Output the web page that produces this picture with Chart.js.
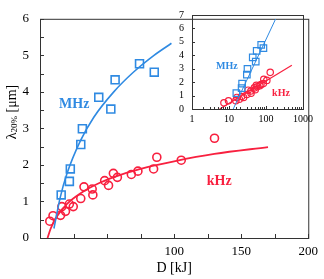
<!DOCTYPE html>
<html>
<head>
<meta charset="utf-8">
<script src="https://cdn.jsdelivr.net/npm/chart.js@4.4.1/dist/chart.umd.min.js"></script>
<style>
  html, body { margin: 0; padding: 0; background: #fff; }
  #wrap { position: relative; width: 324px; height: 279px; }
  #main { position: absolute; left: 0; top: 0; width: 324px; height: 279px; }
  #inset { position: absolute; left: 160px; top: 0; width: 164px; height: 135px; }
</style>
</head>
<body>
<div id="wrap">
  <canvas id="main" width="324" height="279"></canvas>
  <canvas id="inset" width="164" height="135"></canvas>
</div>
<script>
// measured points, MHz (squares)
const mhzD = [15.8, 21.9, 22.6, 30.4, 31.6, 43.8, 52.8, 56, 74.2, 85.2];
const mhzL = [1.18, 1.55, 1.89, 2.56, 2.99, 3.85, 3.53, 4.33, 4.77, 4.54];
// measured points, kHz (circles)
const khzD = [7.3, 9.7, 15.3, 16.3, 19, 21.9, 24.8, 30.4, 32.8, 38.9, 39.4, 48.2, 51.1, 54.7, 57.7, 68.1, 73, 84.7, 87.1, 105.3, 130.1];
const khzL = [0.46, 0.61, 0.62, 0.86, 0.73, 0.93, 0.86, 1.08, 1.40, 1.34, 1.18, 1.57, 1.44, 1.77, 1.66, 1.74, 1.83, 1.89, 2.21, 2.13, 2.73];
// fit curves
const mhzFitD = [10.4, 15, 20, 30, 40, 55, 70, 85, 98];
const mhzFitL = [0.26, 1.1, 1.75, 2.65, 3.3, 4.0, 4.55, 5.0, 5.33];
const khzFitD = [5.6, 8, 12, 20, 30, 45, 60, 80, 100, 130, 170];
const khzFitL = [0, 0.26, 0.56, 0.93, 1.22, 1.52, 1.73, 1.94, 2.1, 2.3, 2.49];
// fit lines in the log inset
const mhzInsetD = [13, 182];
const mhzInsetL = [0, 6.7];
const khzInsetD = [5.6, 500];
const khzInsetL = [0, 3.25];
// tick labels
const mainXLabels = [100, 150, 200];
const insetXLabels = [1, 10, 100, 1000];

const BLUE = '#2f8ae2';
const RED = '#f8203f';
const SERIF = '"Liberation Serif", "Times New Roman", serif';

const pts = (xs, ys) => xs.map((x, i) => ({ x: x, y: ys[i] }));

// frame, inward tick marks, in-plot labels and the y title
const decor = {
  id: 'decor',
  afterDraw(chart, args, o) {
    const ctx = chart.ctx, a = chart.chartArea;
    const xs = chart.scales.x, ys = chart.scales.y;
    ctx.save();
    ctx.strokeStyle = '#333';
    ctx.lineWidth = 1;
    ctx.strokeRect(a.left + 0.5, a.top + 0.5, a.right - a.left, a.bottom - a.top);
    ctx.beginPath();
    xs.ticks.forEach(t => {
      let len = o.len;
      if (o.log) {
        const e = Math.log10(t.value);
        len = Math.abs(e - Math.round(e)) < 1e-9 ? o.len : o.minorLen;
      }
      const px = Math.round(xs.getPixelForValue(t.value)) + 0.5;
      ctx.moveTo(px, a.bottom);
      ctx.lineTo(px, a.bottom - len);
    });
    ys.ticks.forEach(t => {
      const py = Math.round(ys.getPixelForValue(t.value)) + 0.5;
      ctx.moveTo(a.left, py);
      ctx.lineTo(a.left + o.len, py);
    });
    ctx.stroke();

    ctx.textAlign = 'center';
    ctx.textBaseline = 'middle';
    (o.notes || []).forEach(n => {
      ctx.fillStyle = n.color;
      ctx.font = n.font;
      ctx.fillText(n.text, xs.getPixelForValue(n.x), ys.getPixelForValue(n.y));
    });

    if (o.yTitle) {
      ctx.translate(12, 112);
      ctx.rotate(-Math.PI / 2);
      ctx.fillStyle = '#000';
      ctx.textAlign = 'left';
      ctx.textBaseline = 'middle';
      const big = '14px ' + SERIF, small = '9px ' + SERIF;
      const parts = [['λ', big, 0], ['20%', small, 3], [' [μm]', big, 0]];
      let w = 0;
      parts.forEach(p => { ctx.font = p[1]; w += ctx.measureText(p[0]).width; });
      let x = -w / 2;
      parts.forEach(p => {
        ctx.font = p[1];
        ctx.fillText(p[0], x, p[2]);
        x += ctx.measureText(p[0]).width;
      });
    }
    ctx.restore();
  }
};

new Chart(document.getElementById('main'), {
  type: 'scatter',
  data: {
    datasets: [
      { data: pts(mhzFitD, mhzFitL), showLine: true, borderColor: BLUE, borderWidth: 1.6, pointRadius: 0, cubicInterpolationMode: 'monotone' },
      { data: pts(khzFitD, khzFitL), showLine: true, borderColor: RED, borderWidth: 1.8, pointRadius: 0, cubicInterpolationMode: 'monotone' },
      { data: pts(mhzD, mhzL), pointStyle: 'rect', pointRadius: 5.6, borderColor: BLUE, borderWidth: 1.6, backgroundColor: 'rgba(0,0,0,0)' },
      { data: pts(khzD, khzL), pointStyle: 'circle', pointRadius: 4, borderColor: RED, borderWidth: 1.6, backgroundColor: 'rgba(0,0,0,0)' }
    ]
  },
  options: {
    responsive: false,
    animation: false,
    layout: { padding: { top: 5, right: 10, left: 0, bottom: 0 } },
    plugins: {
      legend: { display: false },
      tooltip: { enabled: false },
      decor: {
        len: 4, minorLen: 4, log: false, yTitle: true,
        notes: [
          { text: 'MHz', x: 25.5, y: 3.67, color: BLUE, font: 'bold 14px ' + SERIF },
          { text: 'kHz', x: 133.6, y: 1.56, color: RED, font: 'bold 14px ' + SERIF }
        ]
      }
    },
    scales: {
      x: {
        type: 'linear', min: 0, max: 200,
        afterFit: s => { s.height = 41; },
        grid: { display: false, drawTicks: false },
        border: { display: false },
        ticks: {
          stepSize: 25, autoSkip: false, maxRotation: 0, padding: 6, color: '#000',
          font: { family: SERIF, size: 13 },
          callback: v => mainXLabels.includes(v) ? String(v) : ''
        },
        title: { display: true, text: 'D [kJ]', color: '#000', padding: 2, font: { family: SERIF, size: 14 } }
      },
      y: {
        type: 'linear', min: 0, max: 6,
        afterFit: s => { s.width = 40; },
        grid: { display: false, drawTicks: false },
        border: { display: false },
        ticks: {
          stepSize: 0.5, autoSkip: false, padding: 11, color: '#000',
          font: { family: SERIF, size: 13 },
          callback: v => Number.isInteger(v) ? String(v) : ''
        }
      }
    }
  },
  plugins: [decor]
});

new Chart(document.getElementById('inset'), {
  type: 'scatter',
  data: {
    datasets: [
      { data: pts(mhzInsetD, mhzInsetL), showLine: true, borderColor: BLUE, borderWidth: 1, pointRadius: 0 },
      { data: pts(khzInsetD, khzInsetL), showLine: true, borderColor: RED, borderWidth: 1.2, pointRadius: 0 },
      { data: pts(mhzD, mhzL), pointStyle: 'rect', pointRadius: 4.6, borderColor: BLUE, borderWidth: 1.2, backgroundColor: 'rgba(0,0,0,0)' },
      { data: pts(khzD, khzL), pointStyle: 'circle', pointRadius: 3.2, borderColor: RED, borderWidth: 1.2, backgroundColor: 'rgba(0,0,0,0)' }
    ]
  },
  options: {
    responsive: false,
    animation: false,
    layout: { padding: { top: 15, right: 21, left: 0, bottom: 0 } },
    plugins: {
      legend: { display: false },
      tooltip: { enabled: false },
      decor: {
        len: 3, minorLen: 2, log: true, yTitle: false,
        notes: [
          { text: 'MHz', x: 8.8, y: 3.2, color: BLUE, font: 'bold 10px ' + SERIF },
          { text: 'kHz', x: 254, y: 1.19, color: RED, font: 'bold 10px ' + SERIF }
        ]
      }
    },
    scales: {
      x: {
        type: 'logarithmic', min: 1, max: 1000,
        afterFit: s => { s.height = 26; },
        grid: { display: false, drawTicks: false },
        border: { display: false },
        ticks: {
          autoSkip: false, maxRotation: 0, padding: 4, color: '#000',
          font: { family: SERIF, size: 10 },
          callback: v => insetXLabels.includes(v) ? String(v) : ''
        }
      },
      y: {
        type: 'linear', min: 0, max: 7,
        afterFit: s => { s.width = 32; },
        grid: { display: false, drawTicks: false },
        border: { display: false },
        ticks: {
          stepSize: 1, autoSkip: false, padding: 8, color: '#000',
          font: { family: SERIF, size: 10 }
        }
      }
    }
  },
  plugins: [decor]
});
</script>
</body>
</html>
